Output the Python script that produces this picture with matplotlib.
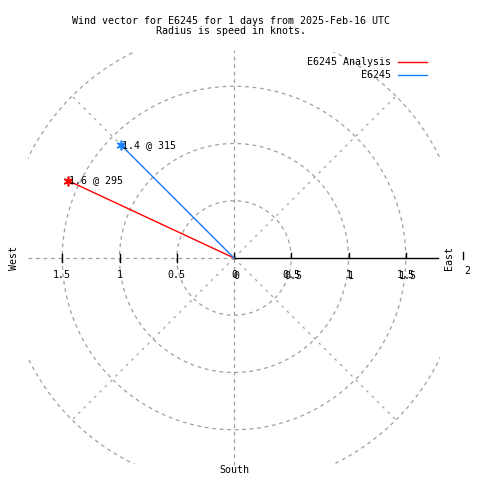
import matplotlib
matplotlib.use("Agg")
import matplotlib.pyplot as plt
from matplotlib.patches import Rectangle
import numpy as np

# datos del grafico
series = ['E6245 Analysis', 'E6245']
velocidades = [1.6, 1.4]        # nudos
direcciones = [295, 315]        # grados desde el norte
colores = ['#ff0000', '#1a80ff']
anillos = [0.5, 1.0, 1.5, 2.0]
ticks_oeste = [1.5, 1.0, 0.5]
ticks_este = [0, 0.5, 1.0, 1.5]

titulo = 'Wind vector for E6245 for 1 days from 2025-Feb-16 UTC\nRadius is speed in knots.'

fuente = 'DejaVu Sans Mono'
fs = 7.2

# escala en pixeles: centro (234, 258), 114.5 px por unidad
cx, cy, esc = 234, 258, 114.5
fig = plt.figure(figsize=(4.8, 4.8), dpi=100)
ax = fig.add_axes([0, 0, 1, 1])
ax.set_xlim(-cx / esc, (480 - cx) / esc)
ax.set_ylim(-(480 - cy) / esc, cy / esc)
ax.axis('off')

lim = 1.8
caja = Rectangle((-lim, -lim), 2 * lim, 2 * lim, transform=ax.transData, fill=False, lw=0)
ax.add_patch(caja)
gris = '#a0a0a0'

# anillos
t = np.linspace(0, 2 * np.pi, 720)
for r in anillos:
    ln, = ax.plot(r * np.cos(t), r * np.sin(t), color=gris, lw=0.9, ls=(0, (3, 3)))
    ln.set_clip_path(caja)

# radios a 45 grados
for a in [45, 135, 225, 315]:
    ar = np.deg2rad(a)
    ax.plot([0, 2 * np.cos(ar)], [0, 2 * np.sin(ar)], color=gris, lw=0.9, ls=(0, (2, 4)))
ax.plot([0, 0], [-1.81, 1.82], color=gris, lw=0.9, ls=(0, (3, 3)))
ax.plot([-lim, 0], [0, 0], color=gris, lw=0.9, ls=(0, (3, 3)))
ax.plot([0, 1.78], [0, 0], color='black', lw=1.0)

# marcas y etiquetas del eje
dy = 4 / esc
for v in ticks_oeste:
    ax.plot([-v, -v], [-dy, dy], color='black', lw=1.0)
    ax.text(-v, -0.15, f'{v:g}', fontsize=fs, family=fuente, ha='center', va='center')
for v in ticks_este:
    ax.plot([v, v], [0, 1.2 * dy], color='black', lw=1.0)
    ax.text(v, -0.15, f'{v:g}', fontsize=fs, family=fuente, ha='center', va='center')
    ax.text(v + 0.02, -0.16, f'{v:g}', fontsize=fs, family=fuente, ha='center', va='center')
ax.plot([2, 2], [-0.01, 1.5 * dy], color='black', lw=1.0)
ax.text(2.04, -0.11, '2', fontsize=fs, family=fuente, ha='center', va='center')

ax.text(-1.92, 0, 'West', fontsize=fs, family=fuente, rotation=90, ha='center', va='center')
ax.text(1.88, 0, 'East', fontsize=fs, family=fuente, rotation=90, ha='center', va='center')
ax.text(0, -1.85, 'South', fontsize=fs, family=fuente, ha='center', va='center')

# vectores de viento
for nombre, v, d, c in zip(series, velocidades, direcciones, colores):
    x = v * np.sin(np.deg2rad(d))
    y = v * np.cos(np.deg2rad(d))
    ax.plot([0, x], [0, y], color=c, lw=1.0)
    ax.plot(x, y, marker=(6, 2, 0), markersize=7, color=c, mew=1.2)
    ax.text(x + 0.01, y, f'{v:g} @ {d}', fontsize=fs, family=fuente, ha='left', va='center')

# leyenda
for i, (nombre, c) in enumerate(zip(series, colores)):
    yl = (cy - (62 + 13 * i)) / esc
    ax.text((391 - cx) / esc, yl, nombre, fontsize=fs, family=fuente, ha='right', va='center')
    ax.plot([(398 - cx) / esc, (427 - cx) / esc], [yl, yl], color=c, lw=1.0)

fig.text(231 / 480, 1 - 26 / 480, titulo, fontsize=fs, family=fuente, ha='center', va='center', linespacing=1.1)

plt.savefig('out.png', dpi=100)
